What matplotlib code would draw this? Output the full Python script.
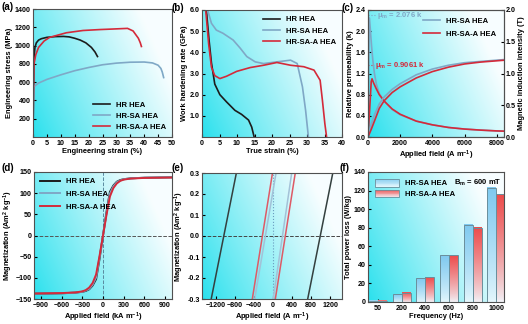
import numpy as np
import matplotlib
matplotlib.use('Agg')
from matplotlib import pyplot as plt
from matplotlib.legend_handler import HandlerBase
from matplotlib.patches import Rectangle, Patch
from matplotlib.ticker import FormatStrFormatter

# ---- data ----
# (a) engineering stress-strain
a_hr_x = [0, 0.15, 0.3, 0.7, 1.2, 2, 3, 5, 8, 11, 13, 15, 17, 19, 21, 22.3, 23.2]
a_hr_y = [0, 450, 850, 980, 1030, 1060, 1075, 1090, 1098, 1100, 1095, 1080, 1060, 1030, 980, 930, 880]
a_sa_x = [0, 0.1, 0.3, 2, 5, 10, 15, 20, 25, 30, 35, 40, 43, 45, 46, 46.5, 47]
a_sa_y = [0, 300, 550, 590, 630, 680, 725, 760, 790, 808, 818, 820, 810, 785, 750, 710, 650]
a_saa_x = [0, 0.15, 0.35, 1, 2, 4, 6, 9, 12, 18, 24, 28, 34, 36, 37.9, 38.6, 39]
a_saa_y = [0, 450, 800, 900, 980, 1050, 1090, 1115, 1140, 1165, 1175, 1180, 1188, 1160, 1080, 1030, 990]

# (b) work hardening rate
b_hr_x = [1.25, 2.0, 2.7, 3.65, 5.1, 7.0, 9.4, 11.3, 13.3, 14.2, 14.9]
b_hr_y = [6.0, 4.6, 3.5, 2.5, 2.0, 1.66, 1.26, 1.07, 0.8, 0.47, 0.0]
b_sa_x = [1.6, 2.7, 4.1, 6.0, 8.9, 10.9, 12.8, 15.2, 17.6, 21.4, 25.3, 27.2, 28.7, 29.6, 30.4]
b_sa_y = [6.0, 5.37, 5.05, 4.9, 4.58, 4.2, 3.8, 3.55, 3.47, 3.55, 3.63, 3.47, 2.37, 1.26, 0.0]
b_saa_x = [1.06, 1.9, 2.7, 3.65, 5.1, 7.0, 9.9, 13.75, 17.6, 21.4, 25.3, 29.1, 32.0, 33.75, 34.4, 35.1, 35.6]
b_saa_y = [6.0, 4.4, 3.3, 2.9, 2.76, 2.87, 3.1, 3.28, 3.39, 3.52, 3.39, 3.32, 3.16, 2.68, 1.74, 0.63, 0.0]

# (c) permeability and induction vs field
c_mu_sa_h = [0, 30, 80, 140, 220, 300, 400, 520, 700, 850, 1000, 1500, 2000, 3000, 4000, 5000, 6000, 7000, 8000, 8500]
c_mu_sa = [0, 1.0, 2.25, 2.05, 1.72, 1.45, 1.2, 1.0, 0.82, 0.75, 0.68, 0.52, 0.42, 0.3, 0.23, 0.18, 0.15, 0.13, 0.115, 0.11]
c_mu_saa_h = [0, 100, 200, 250, 350, 500, 700, 850, 1000, 1500, 2000, 3000, 4000, 5000, 6000, 7000, 8000, 8500]
c_mu_saa = [0, 0.5, 1.05, 1.1, 1.02, 0.92, 0.8, 0.74, 0.68, 0.53, 0.43, 0.3, 0.23, 0.18, 0.15, 0.13, 0.115, 0.11]
c_b_h = [0, 200, 400, 700, 1000, 1500, 2000, 3000, 4000, 5000, 6000, 7000, 8000, 8500]
c_b_sa = [0, 0.2, 0.35, 0.52, 0.63, 0.75, 0.84, 0.98, 1.07, 1.13, 1.17, 1.19, 1.21, 1.22]
c_b_saa = [0, 0.12, 0.25, 0.45, 0.57, 0.7, 0.79, 0.93, 1.03, 1.1, 1.15, 1.18, 1.2, 1.21]

# (d) magnetization loops
d_h = [-1000, -800, -600, -400, -300, -250, -200, -150, -100, -50, 0, 50, 100, 150, 200, 250, 300, 400, 600, 800, 1000]
d_m_hr = [-137.5, -137, -136.5, -135, -133, -131, -127, -118, -103, -55, 0, 55, 103, 118, 127, 131, 133, 135, 136.5, 137, 137.5]
d_m_sa = [-137.5, -137, -136.5, -135, -133, -130, -126, -116, -99, -52, 0, 52, 99, 116, 126, 130, 133, 135, 136.5, 137, 137.5]
d_m_saa = [-137, -136.5, -136, -134.5, -132, -129, -123, -112, -92, -48, 0, 48, 92, 112, 123, 129, 132, 134.5, 136, 136.5, 137]

# (e) zoom of the loops near the origin
e_m = [-0.3, 0.3]
e_hr_left = [-1306, -776]
e_hr_right = [727, 1256]
e_sa_left = [-390, 60]
e_sa_right = [0, 390]
e_saa_left = [-440, -15]
e_saa_right = [45, 465]

# (f) total power loss
f_freq = ['50', '200', '400', '600', '800', '1000']
f_sa = [1.1, 8.4, 25.5, 50.2, 83.3, 123.3]
f_saa = [1.5, 9.8, 26.9, 50.2, 80.0, 116.0]

BLACK = '#1c1c1c'
BLUE = '#7fa8c6'
RED = '#d42a3a'

plt.rcParams.update({
    'font.family': 'Liberation Sans',
    'font.weight': 'bold',
    'axes.labelweight': 'bold',
    'font.size': 5.5,
    'axes.labelsize': 5.4,
    'xtick.labelsize': 5.1,
    'ytick.labelsize': 5.1,
    'mathtext.fontset': 'custom',
    'mathtext.rm': 'Liberation Sans:bold',
    'mathtext.bf': 'Liberation Sans:bold',
    'mathtext.it': 'Liberation Sans:bold',
    'mathtext.default': 'bf',
    'axes.edgecolor': '#505050',
    'axes.linewidth': 0.8,
    'xtick.direction': 'in',
    'ytick.direction': 'in',
    'xtick.major.size': 2,
    'ytick.major.size': 2,
    'xtick.major.pad': 2,
    'ytick.major.pad': 1.5,
    'axes.labelpad': 1.2,
    'legend.frameon': False,
})

fig = plt.figure(figsize=(5.28, 3.24), dpi=100)


def rect(l, t, r, b):
    return [l / 528, 1 - b / 324, (r - l) / 528, (b - t) / 324]


CYAN = np.array([0.16, 0.88, 0.93])
WHITE = np.array([0.97, 0.995, 1.0])


def add_bg(ax):
    g = np.linspace(0, 1, 120)
    X, Y = np.meshgrid(g, g)
    t = np.clip(0.85 * X + 0.35 * Y, 0, 1)[..., None] ** 0.9
    img = CYAN * (1 - t) + WHITE * t
    ax.imshow(img, extent=[0, 1, 0, 1], transform=ax.transAxes, origin='lower',
              aspect='auto', zorder=0, interpolation='bilinear')


def panel_label(x, y, s):
    fig.text(x / 528, 1 - y / 324, s, fontsize=7, fontweight='bold', va='top', ha='left')


# ---- (a) ----
ax = fig.add_axes(rect(33, 9, 172, 137))
add_bg(ax)
ax.plot(a_hr_x, a_hr_y, color=BLACK, lw=1.2, label='HR HEA')
ax.plot(a_sa_x, a_sa_y, color=BLUE, lw=1.2, label='HR-SA HEA')
ax.plot(a_saa_x, a_saa_y, color=RED, lw=1.2, label='HR-SA-A HEA')
ax.set_xlim(0, 50)
ax.set_ylim(0, 1400)
ax.set_xticks(range(0, 51, 5))
ax.set_yticks(range(200, 1401, 200))
ax.set_xlabel('Engineering strain (%)')
ax.set_ylabel('Engineering stress (MPa)')
ax.legend(loc='lower right', handlelength=2.2, labelspacing=0.5, borderaxespad=0.4)
panel_label(1, 2, '(a)')

# ---- (b) ----
ax = fig.add_axes(rect(202, 10, 342, 137))
add_bg(ax)
ax.plot(b_hr_x, b_hr_y, color=BLACK, lw=1.2, label='HR HEA')
ax.plot(b_sa_x, b_sa_y, color=BLUE, lw=1.2, label='HR-SA HEA')
ax.plot(b_saa_x, b_saa_y, color=RED, lw=1.2, label='HR-SA-A HEA')
ax.set_xlim(0, 40)
ax.set_ylim(0, 6)
ax.set_xticks(range(0, 41, 5))
ax.set_yticks([1, 2, 3, 4, 5, 6])
ax.yaxis.set_major_formatter(FormatStrFormatter('%.1f'))
ax.set_xlabel('True strain (%)')
ax.set_ylabel('Work hardening rate (GPa)')
ax.legend(loc='upper right', handlelength=2.2, labelspacing=0.5, borderaxespad=0.4)
panel_label(172, 3, '(b)')

# ---- (c) ----
ax = fig.add_axes(rect(368, 10, 504, 137))
add_bg(ax)
ax.plot(c_mu_sa_h, c_mu_sa, color=BLUE, lw=1.2, zorder=3)
ax.plot(c_mu_saa_h, c_mu_saa, color=RED, lw=1.2, zorder=3)
ax.plot([0, 500], [2.3, 2.3], color=BLUE, lw=0.8, ls=':')
ax.text(550, 2.3, 'μ$_m$ = 2.076 k', color=BLUE, fontsize=5.5, va='center')
ax.plot([0, 400], [1.36, 1.36], color=RED, lw=0.8, ls=':')
ax.text(450, 1.36, 'μ$_m$ = 0.9061 k', color=RED, fontsize=5.5, va='center')
ax.set_xlim(0, 8450)
ax.set_ylim(0, 2.4)
ax.set_xticks(range(0, 8001, 2000))
ax.set_yticks(np.arange(0, 2.41, 0.4))
ax.yaxis.set_major_formatter(FormatStrFormatter('%.1f'))
ax.set_xlabel('Applied field (A m$^{-1}$)')
ax.set_ylabel('Relative permeability (k)')
ax2 = ax.twinx()
ax2.plot(c_b_h, c_b_sa, color=BLUE, lw=1.2, label='HR-SA HEA')
ax2.plot(c_b_h, c_b_saa, color=RED, lw=1.2, label='HR-SA-A HEA')
ax2.set_ylim(0, 2.0)
ax2.set_yticks(np.arange(0, 2.01, 0.5))
ax2.yaxis.set_major_formatter(FormatStrFormatter('%.1f'))
ax2.set_ylabel('Magnetic induction intensity (T)')
ax2.legend(loc='upper right', handlelength=2.2, labelspacing=0.7, borderaxespad=0.6)
panel_label(341, 3, '(c)')

# ---- (d) ----
ax = fig.add_axes(rect(34, 172, 172, 299))
add_bg(ax)
ax.axvline(0, color='#5a8aa0', lw=0.7, ls='--', zorder=1)
ax.axhline(0, color='#555555', lw=0.7, ls='--', zorder=1)
ax.plot(d_h, d_m_hr, color=BLACK, lw=1.4, label='HR HEA')
ax.plot(d_h, d_m_sa, color=BLUE, lw=1.4, label='HR-SA HEA')
ax.plot(d_h, d_m_saa, color=RED, lw=1.4, label='HR-SA-A HEA')
ax.set_xlim(-1000, 1000)
ax.set_ylim(-150, 150)
ax.set_xticks(range(-900, 901, 300))
ax.set_yticks(range(-150, 151, 50))
ax.set_xlabel('Applied field (kA m$^{-1}$)')
ax.set_ylabel('Magnetization (Am$^2$ kg$^{-1}$)', labelpad=0.5)
ax.legend(loc='upper left', handlelength=2.6, labelspacing=0.7, borderaxespad=0.4)
panel_label(1, 163, '(d)')

# ---- (e) ----
ax = fig.add_axes(rect(202, 173, 342, 299))
add_bg(ax)
ax.axvline(0, color='#6a9cc0', lw=0.8, ls=':', zorder=1)
ax.axhline(0, color='#444444', lw=0.7, ls='--', zorder=1)
for hh in (e_hr_left, e_hr_right):
    ax.plot(hh, e_m, color='#34403f', lw=1.1)
for hh in (e_sa_left, e_sa_right):
    ax.plot(hh, e_m, color='#a3c2d8', lw=1.1)
for hh in (e_saa_left, e_saa_right):
    ax.plot(hh, e_m, color='#de5a66', lw=1.1)
ax.set_xlim(-1500, 1450)
ax.set_ylim(-0.3, 0.3)
ax.set_xticks(range(-1200, 1201, 400))
ax.set_yticks(np.arange(-0.3, 0.31, 0.1))
ax.yaxis.set_major_formatter(FormatStrFormatter('%.1f'))
ax.set_xlabel('Applied field (A m$^{-1}$)')
ax.set_ylabel('Magnetization (Am$^2$ kg$^{-1}$)')
panel_label(172, 163, '(e)')

# ---- (f) ----
ax = fig.add_axes(rect(368, 172, 504, 302))
add_bg(ax)
x = np.arange(len(f_freq))
bw = 0.38
BLUE_TOP = np.array([0.5, 0.79, 0.94])
BLUE_BOT = np.array([0.9, 0.97, 0.99])
RED_TOP = np.array([0.93, 0.3, 0.3])
RED_BOT = np.array([0.95, 0.95, 0.97])
bars_sa = ax.bar(x - bw / 2, f_sa, bw, facecolor='none', edgecolor='#6a8f9c', lw=0.7, zorder=3)
bars_saa = ax.bar(x + bw / 2, f_saa, bw, facecolor='none', edgecolor='#6a8f9c', lw=0.7, zorder=3)
g = np.linspace(0, 1, 60)[:, None, None]
for bars, top, bot in ((bars_sa, BLUE_TOP, BLUE_BOT), (bars_saa, RED_TOP, RED_BOT)):
    grad = bot * (1 - g ** 0.8) + top * g ** 0.8
    for p in bars:
        ax.imshow(grad, extent=[p.get_x(), p.get_x() + p.get_width(), 0, p.get_height()],
                  origin='lower', aspect='auto', zorder=2, interpolation='bilinear')
ax.set_xlim(-0.42, 5.33)
ax.set_ylim(0, 140)
ax.set_xticks(x)
ax.set_xticklabels(f_freq)
ax.set_yticks(range(0, 141, 20))
ax.set_xlabel('Frequency (Hz)')
ax.set_ylabel('Total power loss (W/kg)')


class GradHandler(HandlerBase):
    def __init__(self, top, bot):
        super().__init__()
        self.top, self.bot = top, bot

    def create_artists(self, legend, orig_handle, xdescent, ydescent, width, height, fontsize, trans):
        arts = []
        n = 10
        for i in range(n):
            t = (i + 0.5) / n
            c = self.bot * (1 - t) + self.top * t
            arts.append(Rectangle((-xdescent, -ydescent + i * height / n), width, height / n,
                                  facecolor=c, edgecolor='none', transform=trans))
        arts.append(Rectangle((-xdescent, -ydescent), width, height, facecolor='none',
                              edgecolor='#6a8f9c', lw=0.6, transform=trans))
        return arts


h1 = Patch(label='HR-SA HEA')
h2 = Patch(label='HR-SA-A HEA')
ax.legend(handles=[h1, h2], loc='upper left', handlelength=3.2, handleheight=1.2,
          labelspacing=0.3, borderaxespad=0.5,
          handler_map={h1: GradHandler(BLUE_TOP, BLUE_BOT), h2: GradHandler(RED_TOP, RED_BOT)})
ax.text(0.63, 0.915, 'B$_m$ = 600 mT', transform=ax.transAxes, fontsize=5.5, va='center')
panel_label(340, 163, '(f)')

fig.savefig('out.png', dpi=100)
